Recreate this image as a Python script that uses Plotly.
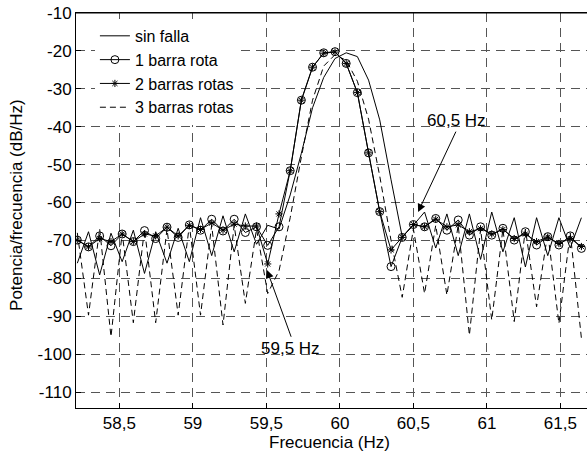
import plotly.graph_objects as go

freq = [58.214, 58.290, 58.366, 58.443, 58.519, 58.595, 58.671, 58.747, 58.824, 58.900,
        58.976, 59.052, 59.128, 59.205, 59.281, 59.357, 59.433, 59.509, 59.586, 59.662,
        59.738, 59.814, 59.890, 59.967, 60.043, 60.119, 60.195, 60.271, 60.348, 60.424,
        60.500, 60.576, 60.652, 60.728, 60.805, 60.881, 60.957, 61.033, 61.109, 61.186,
        61.262, 61.338, 61.414, 61.490, 61.567, 61.643]

sin_falla = [-76.0, -67.7, -79.1, -68.1, -75.6, -67.3, -78.7, -67.7, -76.0, -66.8,
             -75.6, -64.0, -74.0, -63.5, -73.0, -63.0, -71.0, -66.0, -67.0, -58.0,
             -47.0, -35.0, -27.0, -22.0, -20.5, -21.5, -27.7, -38.2, -54.0, -69.0,
             -66.0, -62.5, -72.0, -63.0, -74.0, -63.0, -75.0, -62.5, -73.0, -64.0,
             -77.0, -64.0, -74.0, -64.0, -72.0, -64.0]

una_barra = [-69.9, -71.7, -68.8, -71.4, -68.3, -70.3, -67.4, -69.5, -66.5, -69.2,
             -65.9, -67.3, -64.4, -67.5, -64.4, -67.9, -66.4, -71.3, -66.4, -51.6,
             -33.0, -24.3, -20.5, -20.2, -23.3, -31.0, -46.9, -62.4, -76.9, -69.2,
             -65.8, -66.4, -64.2, -67.3, -64.6, -68.6, -66.4, -68.6, -66.8, -69.9,
             -67.7, -71.2, -69.0, -71.2, -68.8, -72.1]

dos_barras = [-69.9, -71.7, -69.5, -70.3, -68.3, -70.3, -68.3, -68.8, -66.5, -68.8,
              -66.0, -67.1, -65.4, -67.3, -65.7, -66.2, -66.2, -76.2, -63.0, -51.6,
              -33.0, -24.3, -20.6, -20.3, -23.3, -31.0, -46.9, -62.4, -72.5, -69.2,
              -65.8, -66.4, -64.4, -66.4, -65.9, -67.7, -66.9, -68.3, -67.1, -69.5,
              -68.3, -70.3, -69.1, -70.8, -69.5, -71.6]

tres_barras = [-68.0, -89.7, -67.0, -95.4, -68.0, -91.7, -67.0, -91.7, -67.0, -89.7,
               -66.0, -89.7, -66.0, -92.3, -66.0, -86.6, -67.0, -84.0, -78.0, -64.0,
               -48.0, -33.0, -24.0, -21.0, -22.5, -28.0, -38.0, -53.0, -70.0, -85.0,
               -67.0, -84.0, -66.0, -84.4, -66.0, -95.0, -67.0, -91.0, -67.0, -91.4,
               -67.0, -87.5, -68.0, -91.9, -68.0, -95.8]

x_ticks = [58.5, 59.0, 59.5, 60.0, 60.5, 61.0, 61.5]
x_tick_text = ["58,5", "59", "59,5", "60", "60,5", "61", "61,5"]
y_ticks = [-10, -20, -30, -40, -50, -60, -70, -80, -90, -100, -110]
y_tick_text = ["-10", "-20", "-30", "-40", "-50", "-60", "-70", "-80", "-90", "-100", "-110"]

FONT = "Liberation Sans, Arial, sans-serif"
FS = 17

fig = go.Figure()
fig.add_trace(go.Scatter(x=freq, y=sin_falla, mode="lines", name="sin falla",
                         line=dict(color="black", width=1)))
fig.add_trace(go.Scatter(x=freq, y=una_barra, mode="lines+markers", name="1 barra rota",
                         line=dict(color="black", width=1),
                         marker=dict(symbol="circle-open", size=8, color="black",
                                     line=dict(width=1, color="black"))))
fig.add_trace(go.Scatter(x=freq, y=dos_barras, mode="lines+markers", name="2 barras rotas",
                         line=dict(color="black", width=1),
                         marker=dict(symbol="asterisk-open", size=6, color="black",
                                     line=dict(width=1, color="black"))))
fig.add_trace(go.Scatter(x=freq, y=tres_barras, mode="lines", name="3 barras rotas",
                         line=dict(color="black", width=1, dash="6px,4px")))

# arrows
fig.add_annotation(x=60.532, y=-62.5, ax=60.794, ay=-40.9, axref="x", ayref="y",
                   xref="x", yref="y", text="", showarrow=True, arrowhead=2,
                   arrowsize=1.6, arrowwidth=1, arrowcolor="black")
fig.add_annotation(x=59.504, y=-77.8, ax=59.672, ay=-95.8, axref="x", ayref="y",
                   xref="x", yref="y", text="", showarrow=True, arrowhead=2,
                   arrowsize=1.6, arrowwidth=1, arrowcolor="black")
fig.add_annotation(x=60.793, y=-38.3, xref="x", yref="y", text="60,5 Hz",
                   showarrow=False, font=dict(family=FONT, size=FS, color="black"))
fig.add_annotation(x=59.661, y=-98.4, xref="x", yref="y", text="59,5 Hz",
                   showarrow=False, font=dict(family=FONT, size=FS, color="black"))

# axis titles
fig.add_annotation(x=0.497, y=-0.088, xref="paper", yref="paper", text="Frecuencia (Hz)",
                   showarrow=False, xanchor="center", yanchor="middle",
                   font=dict(family=FONT, size=FS, color="black"))
fig.add_annotation(x=-0.1155, y=0.514, xref="paper", yref="paper",
                   text="Potencia/frecuencia (dB/Hz)", textangle=-90,
                   showarrow=False, xanchor="center", yanchor="middle",
                   font=dict(family=FONT, size=FS, color="black"))

# top border of the axes box
fig.add_shape(type="line", xref="paper", yref="paper", x0=0, x1=1, y0=1, y1=1,
              line=dict(color="black", width=1.2), layer="above")

grid = dict(showgrid=True, gridcolor="#555555", gridwidth=1, griddash="9px,6px")

fig.update_xaxes(range=[58.205, 61.681], tickvals=x_ticks, ticktext=x_tick_text,
                 ticks="inside", ticklen=5, tickcolor="black", showline=True,
                 linecolor="black", linewidth=1, mirror=True, zeroline=False,
                 automargin=False, ticklabeloverflow="allow",
                 tickfont=dict(family=FONT, size=FS, color="black"), **grid)
fig.update_yaxes(range=[-114.2, -10], tickvals=y_ticks, ticktext=y_tick_text,
                 ticks="inside", ticklen=5, tickcolor="black", showline=True,
                 linecolor="black", linewidth=1, mirror=False, zeroline=False,
                 automargin=False, ticklabeloverflow="allow",
                 tickfont=dict(family=FONT, size=FS, color="black"), **grid)

fig.update_layout(
    width=587, height=453,
    margin=dict(l=76, r=0, t=13, b=45, autoexpand=False),
    plot_bgcolor="white", paper_bgcolor="white",
    showlegend=True,
    legend=dict(x=0.037, y=0.985, xanchor="left", yanchor="top",
                bgcolor="white", borderwidth=0, tracegroupgap=0,
                font=dict(family=FONT, size=16, color="black")),
)

# remove the browser's default 8px page margin so the figure fills the window
fig.write_html("out.html", config={"displayModeBar": False},
               post_script="document.body.style.margin='0';document.body.style.overflow='hidden';")
